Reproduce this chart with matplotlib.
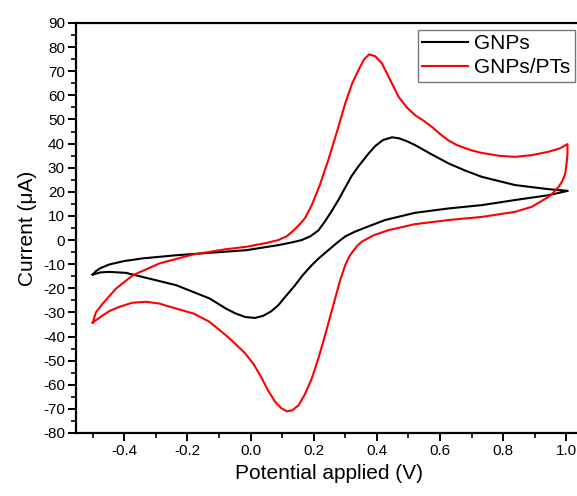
import matplotlib
matplotlib.use("Agg")
import matplotlib.pyplot as plt
from matplotlib.ticker import MultipleLocator

plt.rcParams['font.family'] = ['Liberation Sans', 'DejaVu Sans']

# GNPs (black) - forward (anodic) and reverse (cathodic) scans
gnps_fwd_x = [-0.500, -0.490, -0.475, -0.447, -0.400, -0.342, -0.236, -0.130, -0.014, 0.088,
              0.130, 0.162, 0.190, 0.215, 0.235, 0.257, 0.280, 0.300, 0.320, 0.342, 0.374,
              0.395, 0.420, 0.448, 0.470, 0.495, 0.521, 0.574, 0.627, 0.680, 0.733, 0.838,
              0.944, 1.005]
gnps_fwd_y = [-14.3, -12.9, -11.6, -10.1, -8.7, -7.6, -6.3, -5.3, -4.2, -2.1,
              -1.0, 0.0, 1.6, 4.0, 7.6, 12.0, 17.0, 21.8, 26.5, 30.6, 35.9,
              39.0, 41.5, 42.6, 42.2, 41.0, 39.4, 35.5, 31.8, 28.8, 26.2, 22.8,
              21.1, 20.4]
gnps_rev_x = [1.005, 0.944, 0.838, 0.733, 0.627, 0.521, 0.426, 0.384, 0.331, 0.300, 0.278,
              0.240, 0.215, 0.194, 0.165, 0.140, 0.112, 0.088, 0.065, 0.040, 0.014, -0.017,
              -0.050, -0.078, -0.130, -0.236, -0.342, -0.395, -0.447, -0.475, -0.500]
gnps_rev_y = [20.4, 18.6, 16.6, 14.5, 13.1, 11.3, 8.3, 6.2, 3.5, 1.5, -0.7,
              -4.9, -7.7, -10.4, -14.6, -18.9, -23.2, -27.0, -29.6, -31.4, -32.3, -31.9,
              -30.3, -28.4, -24.2, -18.7, -15.3, -13.6, -13.2, -13.4, -14.3]

# GNPs/PTs (red)
pts_fwd_x = [-0.500, -0.490, -0.468, -0.426, -0.373, -0.289, -0.183, -0.078, -0.014, 0.050,
             0.088, 0.115, 0.131, 0.152, 0.172, 0.194, 0.220, 0.247, 0.275, 0.300, 0.322,
             0.342, 0.360, 0.376, 0.395, 0.416, 0.440, 0.469, 0.495, 0.521, 0.548, 0.574,
             0.600, 0.627, 0.655, 0.700, 0.733, 0.790, 0.838, 0.890, 0.944, 0.980, 1.004]
pts_fwd_y = [-34.2, -30.0, -26.3, -20.1, -14.6, -9.7, -6.0, -3.8, -2.8, -1.2,
             0.0, 1.6, 3.4, 6.0, 9.0, 14.5, 23.0, 33.5, 45.5, 56.7, 65.0,
             70.5, 75.0, 77.0, 76.2, 73.3, 67.0, 59.4, 55.0, 51.8, 49.5, 47.0,
             44.0, 41.3, 39.3, 37.2, 36.1, 34.9, 34.5, 35.2, 36.6, 38.0, 39.8]
pts_rev_x = [1.004, 1.004, 1.001, 0.997, 0.988, 0.976, 0.960, 0.944, 0.891, 0.838, 0.733,
             0.627, 0.521, 0.437, 0.390, 0.352, 0.338, 0.325, 0.312, 0.300, 0.283, 0.268,
             0.236, 0.215, 0.194, 0.172, 0.152, 0.132, 0.115, 0.098, 0.078, 0.056, 0.036,
             0.010, -0.017, -0.050, -0.078, -0.130, -0.180, -0.236, -0.290, -0.331, -0.375,
             -0.416, -0.445, -0.468, -0.500]
pts_rev_y = [39.8, 35.9, 31.5, 27.6, 24.5, 22.1, 19.8, 17.9, 13.8, 11.7, 9.6,
             8.3, 6.6, 4.1, 2.0, -0.7, -2.4, -4.5, -7.0, -10.4, -17.0, -24.2,
             -39.5, -49.0, -57.4, -64.0, -68.5, -70.6, -71.0, -69.8, -67.1, -62.5, -57.4,
             -51.5, -47.0, -42.8, -39.5, -33.9, -30.5, -28.4, -26.3, -25.6, -26.0,
             -27.7, -29.3, -31.2, -34.2]

labels = ["GNPs", "GNPs/PTs"]
colors = ["black", "red"]

fig = plt.figure(figsize=(5.77, 4.96), dpi=100)
ax = fig.add_axes([76/577, 63/496, (582-76)/577, (433-23)/496])

ax.plot(gnps_fwd_x + gnps_rev_x[1:], gnps_fwd_y + gnps_rev_y[1:], color=colors[0], lw=1.5,
        label=labels[0], solid_joinstyle='round')
ax.plot(pts_fwd_x + pts_rev_x[1:], pts_fwd_y + pts_rev_y[1:], color=colors[1], lw=1.5,
        label=labels[1], solid_joinstyle='round')

ax.set_xlim(-0.553, 1.05)
ax.set_ylim(-80, 90)
ax.xaxis.set_minor_locator(MultipleLocator(0.1))
ax.yaxis.set_minor_locator(MultipleLocator(5))
ax.set_xticks([-0.4, -0.2, 0.0, 0.2, 0.4, 0.6, 0.8, 1.0])
ax.set_xticklabels(["-0.4", "-0.2", "0.0", "0.2", "0.4", "0.6", "0.8", "1.0"])
ax.set_yticks(list(range(-80, 91, 10)))
ax.set_yticklabels([str(v) for v in range(-80, 91, 10)])

for s in ax.spines.values():
    s.set_linewidth(1.6)
ax.tick_params(which='major', direction='out', length=6, width=1.4, labelsize=11, pad=2)
ax.tick_params(which='minor', direction='out', length=3.5, width=1.2)

ax.set_xlabel("Potential applied (V)", fontsize=15, labelpad=4)
ax.set_ylabel("Current (\u03bcA)", fontsize=15, labelpad=4)

leg = ax.legend(loc='upper left', bbox_to_anchor=(418/577, 1 - 30/496), bbox_transform=fig.transFigure,
                fontsize=15, frameon=True, fancybox=False, edgecolor='#555555',
                handlelength=2.2, handletextpad=0.3, labelspacing=0.25, borderpad=0.2,
                borderaxespad=0)
leg.get_frame().set_linewidth(1.0)

fig.savefig("out.png", dpi=100)
